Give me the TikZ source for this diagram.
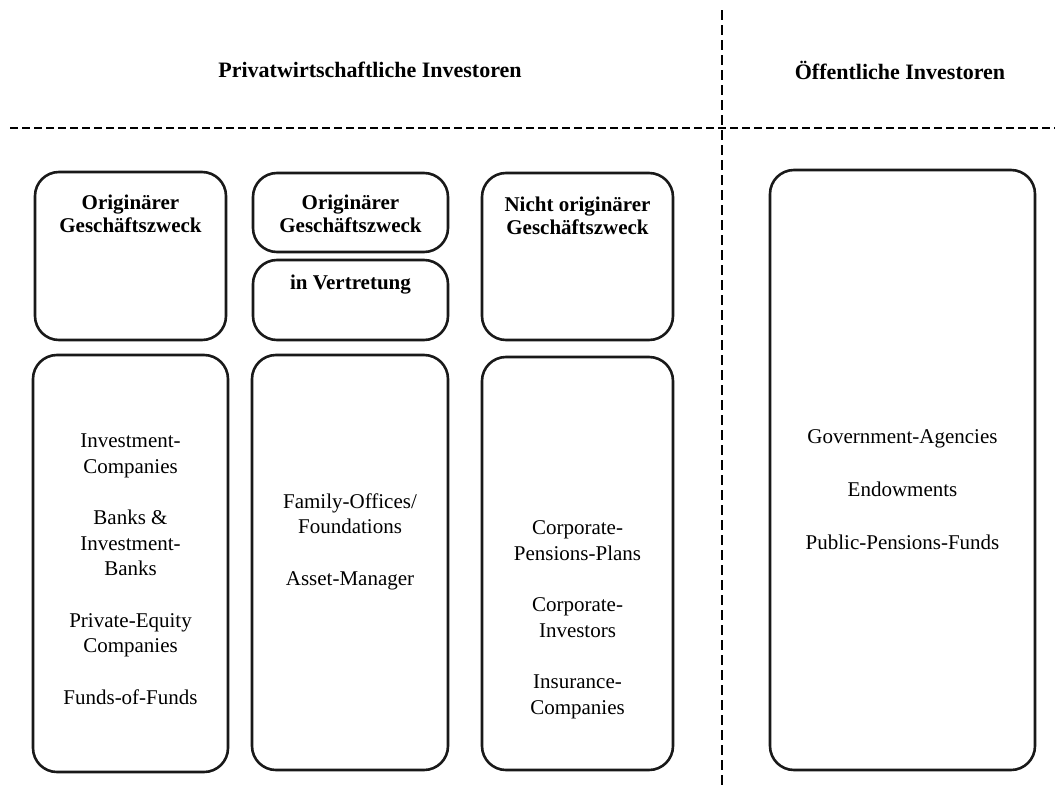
\documentclass[tikz,border=0pt]{standalone}
\usepackage{fontspec}
\setmainfont{Liberation Serif}
\begin{document}
\begin{tikzpicture}[x=1pt,y=-1pt,
  box/.style={draw=black!90,line width=2.6pt,rounded corners=24pt,rectangle,inner sep=0pt},
  head/.style={font=\bfseries\fontsize{21}{23}\selectfont,align=center,inner sep=0pt},
  body/.style={font=\fontsize{21}{25.5}\selectfont,align=center,inner sep=0pt},
  title/.style={font=\bfseries\fontsize{22}{26}\selectfont,inner sep=0pt},
  sep/.style={line width=2.6pt,dash pattern=on 8pt off 4pt}]
\useasboundingbox (0,0) rectangle (1055,787);
\fill[white] (0,0) rectangle (1055,787);
% separators
\coordinate (hl) at (10,128);
\coordinate (hr) at (1055,128);
\coordinate (vt) at (722,10);
\coordinate (vb) at (722,787);
\draw[sep] (hl) -- (hr);
\draw[sep,dash pattern=on 10pt off 5pt] (vt) -- (vb);
% titles
\node[title] (t1) at (370,70) {Privatwirtschaftliche Investoren};
\node[title] (t2) at (900,70) {Öffentliche Investoren};
% top boxes
\node[box,minimum width=191pt,minimum height=168pt] (A) at (130.5,256) {};
\node[box,minimum width=195pt,minimum height=79pt] (B1) at (350.5,212.5) {};
\node[box,minimum width=195pt,minimum height=80pt] (B2) at (350.5,300) {};
\node[box,minimum width=191pt,minimum height=167pt] (C) at (577.5,256.5) {};
\node[head] (Ah) at (130.5,213.5) {Originärer\\Geschäftszweck};
\node[head] (B1h) at (350.5,213.5) {Originärer\\Geschäftszweck};
\node[head] (B2h) at (350.5,285) {in Vertretung};
\node[head] (Ch) at (577.5,215.5) {Nicht originärer\\Geschäftszweck};
% bottom boxes
\node[box,minimum width=195pt,minimum height=417pt] (D) at (130.5,563.5) {};
\node[box,minimum width=196pt,minimum height=415pt] (E) at (350,562.5) {};
\node[box,minimum width=191pt,minimum height=413pt] (F) at (577.5,563.5) {};
\node[box,minimum width=265pt,minimum height=600pt] (G) at (902.5,470) {};
\node[body] (Dt) at (130.5,569) {Investment-\\Companies\\[26pt]Banks \&\\Investment-\\Banks\\[26pt]Private-Equity\\Companies\\[26pt]Funds-of-Funds};
\node[body] (Et) at (350,541.5) {Family-Offices/\\Foundations\\[26pt]Asset-Manager};
\node[body] (Ft) at (577.5,620) {Corporate-\\Pensions-Plans\\[26pt]Corporate-\\Investors\\[26pt]Insurance-\\Companies};
\node[body] (Gt) at (902.5,490) {Government-Agencies\\[27.5pt]Endowments\\[27.5pt]Public-Pensions-Funds};
\end{tikzpicture}
\end{document}
